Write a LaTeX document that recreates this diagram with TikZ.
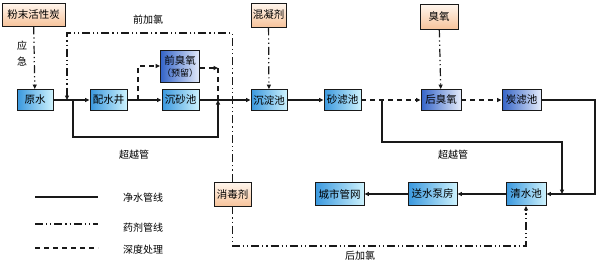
\documentclass[tikz,border=0pt]{standalone}
\usepackage{fontspec}
\newfontfamily\cjk{Noto Sans CJK SC}
\usetikzlibrary{arrows.meta}
\definecolor{bdark}{RGB}{58,152,222}
\definecolor{blight}{RGB}{205,242,253}
\definecolor{ddark}{RGB}{52,100,200}
\definecolor{dlight}{RGB}{228,235,250}
\definecolor{otop}{RGB}{255,246,238}
\definecolor{obot}{RGB}{247,196,156}
\definecolor{lc}{RGB}{25,25,25}
\tikzset{
  base/.style={draw=lc, line width=0.9pt, inner sep=0pt, font=\cjk\fontsize{10.5}{12}\selectfont, align=center},
  bbox/.style={base, left color=bdark, right color=blight},
  dbox/.style={base, left color=ddark, right color=dlight},
  obox/.style={base, top color=otop, bottom color=obot},
  lbl/.style={font=\cjk\fontsize{10}{12}\selectfont, inner sep=0pt},
  tip/.style={-{Triangle[length=4.5pt,width=4pt]}},
  pipe/.style={draw=lc, line width=1.2pt},
  chem/.style={draw=lc, line width=1.2pt, dash pattern=on 8pt off 3pt on 1.2pt off 3pt on 1.2pt off 3pt},
  deep/.style={draw=lc, line width=1.2pt, dash pattern=on 5pt off 4pt},
}
\begin{document}
\begin{tikzpicture}[x=1pt,y=-1pt]
\useasboundingbox (0,0) rectangle (600,268);
% nodes
\node[obox, minimum width=63pt, minimum height=23pt] (pac) at (33.5,14.5) {粉末活性炭};
\node[bbox, minimum width=36pt, minimum height=21pt] (yuan) at (35,100) {原水};
\node[bbox, minimum width=37pt, minimum height=21pt] (peis) at (108.5,100) {配水井};
\node[dbox, minimum width=39pt, minimum height=32pt] (qcy) at (180,66) {前臭氧\\{\fontsize{9}{10}\selectfont （预留）}};
\node[bbox, minimum width=37pt, minimum height=21pt] (chs) at (180.5,100) {沉砂池};
\node[obox, minimum width=35pt, minimum height=24pt] (hnj) at (268.5,15) {混凝剂};
\node[bbox, minimum width=36pt, minimum height=21pt] (chd) at (269,100) {沉淀池};
\node[bbox, minimum width=37pt, minimum height=21pt] (shl) at (342.5,100) {砂滤池};
\node[obox, minimum width=38pt, minimum height=25pt] (cy) at (439,16.5) {臭氧};
\node[dbox, minimum width=40pt, minimum height=21pt] (hcy) at (441,100) {后臭氧};
\node[dbox, minimum width=39pt, minimum height=21pt] (tl) at (521.5,100) {炭滤池};
\node[bbox, minimum width=40pt, minimum height=23pt] (qs) at (526,194) {清水池};
\node[bbox, minimum width=49pt, minimum height=23pt] (ss) at (432.5,194) {送水泵房};
\node[bbox, minimum width=49pt, minimum height=23pt] (city) at (339.5,194) {城市管网};
\node[obox, minimum width=37pt, minimum height=24pt] (xdj) at (232.5,194) {消毒剂};
% coordinates
\coordinate (qjl1) at (232.5,33);
\coordinate (qjl2) at (67,33);
\coordinate (qjl3) at (67,100);
\coordinate (hjl1) at (232.5,246);
\coordinate (hjl2) at (526,246);
\coordinate (b1a) at (73,100);
\coordinate (b1b) at (73,137);
\coordinate (b1c) at (218,137);
\coordinate (b1d) at (218,100);
\coordinate (dq1) at (138,100);
\coordinate (dq2) at (218,68);
\coordinate (b2a) at (382,100);
\coordinate (b2b) at (382,142);
\coordinate (b2c) at (562,142);
\coordinate (b2d) at (562,194);
\coordinate (tr) at (595,100);
\coordinate (tr2) at (595,194);
% main pipes
\draw[pipe, tip] (yuan) -- (peis);
\draw[pipe, tip] (peis) -- (chs);
\draw[pipe, tip] (chs) -- (chd);
\draw[pipe, tip] (chd) -- (shl);
\draw[pipe, tip] (b1a) -- (b1b) -- (b1c) -- (b1d);
\draw[pipe, tip] (tl.east) -- (tr) -- (tr2) -- (qs.east);
\draw[pipe, tip] (b2a) -- (b2b) -- (b2c) -- (b2d);
\draw[pipe, tip] (qs) -- (ss);
\draw[pipe, tip] (ss) -- (city);
% deep treatment
\draw[deep, tip] (dq1) |- (qcy.west);
\draw[deep, tip] (qcy.east |- dq2) -- (dq2);
\draw[deep] (dq2) -- (b1d);
\draw[deep, tip] (shl) -- (hcy);
\draw[deep, tip] (hcy) -- (tl);
% chemicals
\draw[chem, tip] (pac) -- (yuan);
\draw[chem, tip] (hnj) -- (chd);
\draw[chem, tip] (cy) -- (hcy);
\draw[chem, tip] (xdj.north) -- (qjl1) -- (qjl2) -- (qjl3);
\draw[chem, tip] (xdj.south) -- (hjl1) -- (hjl2) -- (qs.south);
% labels
\node[lbl] (ying) at (22,46) {应};
\node[lbl] (ji) at (22,62) {急};
\node[lbl] (qjl) at (148,20) {前加氯};
\node[lbl] (cyg1) at (134,155) {超越管};
\node[lbl] (cyg2) at (453,155) {超越管};
\node[lbl] (hjl) at (360,256) {后加氯};
% legend
\coordinate (l1a) at (35,197); \coordinate (l1b) at (98,197);
\coordinate (l2a) at (35,224); \coordinate (l2b) at (98,224);
\coordinate (l3a) at (35,248); \coordinate (l3b) at (98,248);
\draw[pipe] (l1a) -- (l1b);
\draw[chem] (l2a) -- (l2b);
\draw[deep] (l3a) -- (l3b);
\node[lbl] (lg1) at (143,198) {净水管线};
\node[lbl] (lg2) at (143,228) {药剂管线};
\node[lbl] (lg3) at (143,250) {深度处理};
\end{tikzpicture}
\end{document}
